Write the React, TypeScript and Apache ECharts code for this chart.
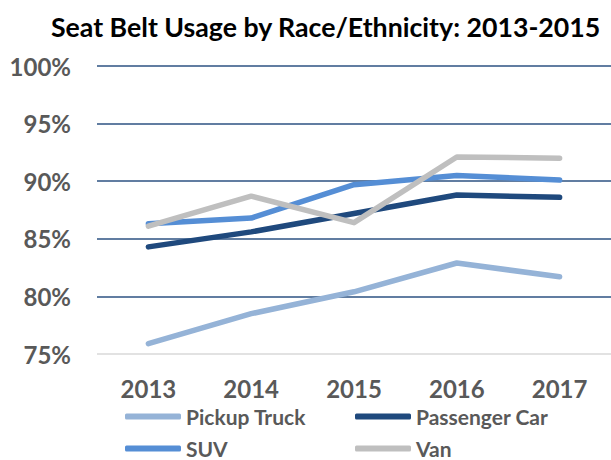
import React, { useEffect, useRef } from "react";
import * as echarts from "echarts";

const categories = ["2013", "2014", "2015", "2016", "2017"];
const pickupTruck = [75.9, 78.5, 80.4, 82.9, 81.7];
const passengerCar = [84.3, 85.6, 87.2, 88.8, 88.6];
const suv = [86.3, 86.8, 89.7, 90.5, 90.1];
const van = [86.1, 88.7, 86.4, 92.1, 92.0];
const seriesNames = ["Pickup Truck", "Passenger Car", "SUV", "Van"];
const colors = ["#95B3D7", "#1F497D", "#558ED5", "#BFBFBF"];

const FONT = "Lato";

export default function App() {
  const ref = useRef<HTMLDivElement>(null);
  useEffect(() => {
    if (!ref.current) return;
    const chart = echarts.init(ref.current, null, { renderer: "svg" });
    const datas = [pickupTruck, passengerCar, suv, van];
    const legendPos = [
      { left: 125, top: 406 },
      { left: 355, top: 406 },
      { left: 125, top: 438 },
      { left: 355, top: 438 },
    ];
    chart.setOption({
      animation: false,
      title: {
        text: "Seat Belt Usage by Race/Ethnicity: 2013-2015",
        left: 46,
        top: 8,
        textStyle: { fontFamily: FONT, fontWeight: "bold", fontSize: 26.7, color: "#000" },
      },
      legend: seriesNames.map((n, i) => ({
        data: [{ name: n, icon: "roundRect" }],
        left: legendPos[i].left,
        top: legendPos[i].top,
        padding: 0,
        itemWidth: 56,
        itemHeight: 6,
        itemGap: 4,
        selectedMode: false,
        textStyle: { fontFamily: FONT, fontWeight: "bold", fontSize: 21, color: "#595959" },
      })),
      grid: { left: 97, top: 66, width: 523, height: 288, containLabel: false },
      xAxis: {
        type: "category",
        data: categories,
        boundaryGap: true,
        axisLine: { show: false },
        axisTick: { show: false },
        axisLabel: { fontFamily: FONT, fontWeight: "bold", fontSize: 24, color: "#595959", margin: 22 },
      },
      yAxis: {
        type: "value",
        min: 75,
        max: 100,
        interval: 5,
        axisLine: { show: false },
        axisTick: { show: false },
        axisLabel: {
          formatter: "{value}%",
          fontFamily: FONT,
          fontWeight: "bold",
          fontSize: 24,
          color: "#595959",
          margin: 26,
        },
        splitLine: {
          lineStyle: {
            color: ["#D9D9D9", "#2C5282", "#2C5282", "#2C5282", "#2C5282", "#2C5282"],
            width: 1.5,
          },
        },
      },
      series: seriesNames.map((n, i) => ({
        name: n,
        type: "line",
        data: datas[i],
        symbol: "none",
        color: colors[i],
        itemStyle: { color: colors[i] },
        lineStyle: { width: 5.5, color: colors[i], cap: "round", join: "round" },
      })),
    });
    return () => chart.dispose();
  }, []);
  return <div ref={ref} style={{ width: 611, height: 460, position: "absolute", left: 0, top: 0 }} />;
}
